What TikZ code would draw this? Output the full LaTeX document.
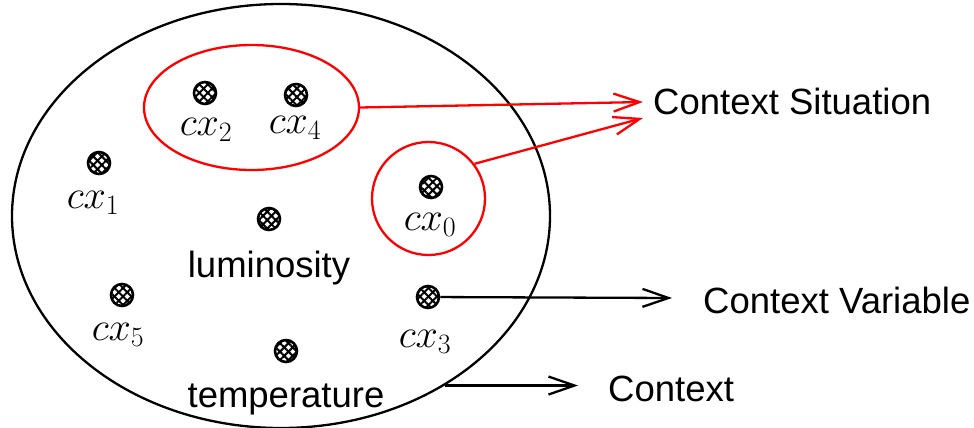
\documentclass[tikz,border=0pt]{standalone}
\usepackage{fix-cm}
\usepackage{fontspec}
\setmainfont{Liberation Sans}
\usetikzlibrary{shapes.geometric,arrows.meta,patterns.meta}

\tikzset{
  ln/.style={line width=2.3pt},
  ctxarrow/.style={ln, -{Straight Barb[length=26pt,width=18pt]}},
  marker/.style={circle, inner sep=0pt, minimum size=22pt, draw=black,
    line width=2.6pt, fill=white,
    postaction={pattern={Lines[angle=45,distance=6pt,line width=2pt]}, pattern color=black},
    postaction={pattern={Lines[angle=-45,distance=6pt,line width=2pt]}, pattern color=black}},
  varlabel/.style={anchor=base, inner sep=0pt, font=\fontsize{40}{46}\selectfont},
  word/.style={anchor=base, inner sep=0pt, font=\fontsize{36.5}{44}\selectfont},
  wordleft/.style={word, anchor=base west},
  group/.style={ellipse, inner sep=0pt, ln},
}

\begin{document}
\begin{tikzpicture}[x=1pt, y=-1pt]
  \useasboundingbox (0,0) rectangle (974,428);

  % the context as a whole
  \node[group, draw=black, minimum width=538pt, minimum height=424pt] (ctx) at (281,216) {};

  % context situations
  \node[group, draw=red, minimum width=215pt, minimum height=125pt] (sitA) at (251.5,107.5) {};
  \node[group, draw=red, minimum width=113pt, minimum height=113pt] (sitB) at (428.5,198.5) {};

  % context variables
  \node[marker] (m2) at (205,93) {};
  \node[marker] (m4) at (296,95) {};
  \node[marker] (m1) at (99,163) {};
  \node[marker] (m0) at (431,187) {};
  \node[marker] (mL) at (269,219) {};
  \node[marker] (m5) at (122,295) {};
  \node[marker] (m3) at (428,297) {};
  \node[marker] (mT) at (286,351) {};

  \node[varlabel] (l2) at (206,135) {$cx_2$};
  \node[varlabel] (l4) at (295,133) {$cx_4$};
  \node[varlabel] (l1) at (93,208) {$cx_1$};
  \node[varlabel] (l0) at (430,230) {$cx_0$};
  \node[varlabel] (l5) at (118,340) {$cx_5$};
  \node[varlabel] (l3) at (425,347) {$cx_3$};
  \node[word] (lL) at (269,277) {luminosity};
  \node[word] (lT) at (286,407) {temperature};

  % legend on the right
  \node[wordleft] (tSit) at (653,114) {Context Situation};
  \node[wordleft] (tVar) at (703,313) {Context Variable};
  \node[wordleft] (tCtx) at (608,401) {Context};

  \coordinate (sitTipA) at (643,102);
  \coordinate (sitTipB) at (643,118);
  \coordinate (varTip) at (672,298);
  \coordinate (ctxTip) at (578,387);

  \draw[ctxarrow, red] (sitA.east) -- (sitTipA);
  \draw[ctxarrow, red] (sitB.37) -- (sitTipB);
  \draw[ctxarrow] (m3) -- (varTip);
  \draw[ctxarrow] (ctx.-46.5) -- (ctx.-46.5 -| ctxTip);
\end{tikzpicture}
\end{document}
